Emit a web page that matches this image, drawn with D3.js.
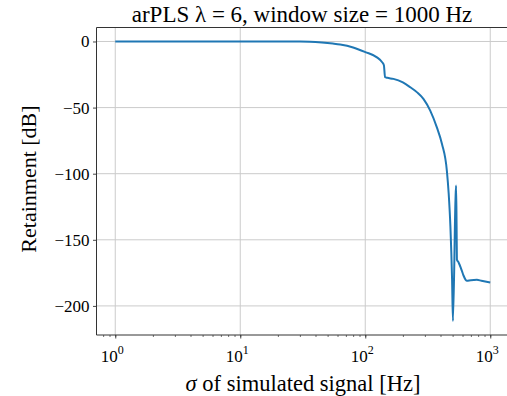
<!DOCTYPE html>
<html>
<head>
<meta charset="utf-8">
<script src="https://cdn.jsdelivr.net/npm/d3@7"></script>
<style>
  html, body { margin: 0; padding: 0; background: #fff; }
  svg { display: block; }
  text { font-family: "Liberation Serif", "Times New Roman", serif; fill: #000; }
</style>
</head>
<body>
<svg id="chart" width="507" height="396"></svg>
<script>
// Signal width σ in Hz and the retained power in dB
const sigmaHz = [1, 2, 5, 10, 20, 30, 36, 45, 55, 63, 80, 100, 124, 136, 141, 144, 150, 168, 200, 229, 260, 292, 331, 374, 411, 450, 465, 480, 495, 503, 527, 533, 538, 541, 557, 593, 611, 651, 700, 782, 850, 1000];
const retainDb = [0, 0, 0, 0, 0, 0, -0.2, -0.8, -1.6, -2.3, -4.5, -8, -12, -15.5, -18, -27, -27.5, -28.3, -31, -34.6, -38.5, -43.4, -52.3, -65, -77.5, -98, -115, -140, -180, -211.4, -120, -109, -140, -165, -167, -173.5, -177, -181, -180.5, -180.3, -181, -182.3];

const xTicks = [1, 10, 100, 1000];
const xTickExp = ["0", "1", "2", "3"];
const yTicks = [0, -50, -100, -150, -200];

const titleParts = ["arPLS ", "λ", " = 6, window size = 1000 Hz"];
const xLabel = ["σ", " of simulated signal [Hz]"];
const yLabel = "Retainment [dB]";

const svg = d3.select("#chart");
const margin = { left: 96.5, right: 509, top: 27.5, bottom: 335 };

const x = d3.scaleLog()
  .domain([Math.pow(10, -0.15), Math.pow(10, 3.15)])
  .range([margin.left, margin.right]);
const y = d3.scaleLinear()
  .domain([-222, 10.57])
  .range([margin.bottom, margin.top]);

// grid
const grid = svg.append("g").attr("stroke", "#cbcbcb").attr("stroke-width", 1);
xTicks.forEach(t => grid.append("line")
  .attr("x1", x(t)).attr("x2", x(t))
  .attr("y1", margin.top).attr("y2", margin.bottom));
yTicks.forEach(t => grid.append("line")
  .attr("x1", margin.left).attr("x2", margin.right)
  .attr("y1", y(t)).attr("y2", y(t)));

// curve
svg.append("defs").append("clipPath").attr("id", "plotClip")
  .append("rect")
  .attr("x", margin.left).attr("y", margin.top)
  .attr("width", margin.right - margin.left)
  .attr("height", margin.bottom - margin.top);

const pts = sigmaHz.map((s, i) => [s, retainDb[i]]);
svg.append("path")
  .datum(pts)
  .attr("clip-path", "url(#plotClip)")
  .attr("fill", "none")
  .attr("stroke", "#1f77b4")
  .attr("stroke-width", 2)
  .attr("stroke-linejoin", "round")
  .attr("d", d3.line().x(d => x(d[0])).y(d => y(d[1])).curve(d3.curveMonotoneX));

// x axis with log minor ticks
const xAxis = d3.axisBottom(x)
  .tickValues(x.ticks())
  .tickSize(2)
  .tickFormat("");
const gx = svg.append("g")
  .attr("transform", `translate(0,${margin.bottom})`)
  .call(xAxis);
gx.select(".domain").remove();
gx.selectAll("line").attr("stroke", "#333").attr("stroke-width", 0.7);

const gxMajor = svg.append("g")
  .attr("transform", `translate(0,${margin.bottom})`)
  .call(d3.axisBottom(x).tickValues(xTicks).tickSize(3.5).tickFormat(""));
gxMajor.select(".domain").remove();
gxMajor.selectAll("line").attr("stroke", "#333").attr("stroke-width", 0.9);

xTicks.forEach((t, i) => {
  const lab = svg.append("text")
    .attr("x", x(t) - 3)
    .attr("y", 362)
    .attr("text-anchor", "middle")
    .attr("font-size", 17);
  lab.append("tspan").text("10");
  lab.append("tspan").attr("dy", -8).attr("font-size", 12).text(xTickExp[i]);
});

// y axis
const gy = svg.append("g")
  .attr("transform", `translate(${margin.left},0)`)
  .call(d3.axisLeft(y).tickValues(yTicks).tickSize(3.5)
    .tickFormat(d => d < 0 ? "\u2212" + Math.abs(d) : String(d)));
gy.select(".domain").remove();
gy.selectAll("line").attr("stroke", "#333").attr("stroke-width", 0.9);
gy.selectAll("text")
  .attr("font-family", "Liberation Serif, serif")
  .attr("font-size", 17)
  .attr("fill", "#000")
  .attr("x", -7);

// spines
const spine = svg.append("g").attr("stroke", "#333").attr("stroke-width", 1).attr("fill", "none");
spine.append("line").attr("x1", margin.left).attr("x2", margin.left).attr("y1", margin.top).attr("y2", margin.bottom);
spine.append("line").attr("x1", margin.left).attr("x2", margin.right).attr("y1", margin.bottom).attr("y2", margin.bottom);
spine.append("line").attr("x1", margin.left).attr("x2", margin.right).attr("y1", margin.top).attr("y2", margin.top);
spine.append("line").attr("x1", margin.right).attr("x2", margin.right).attr("y1", margin.top).attr("y2", margin.bottom);

// title
const title = svg.append("text")
  .attr("x", 302).attr("y", 22)
  .attr("text-anchor", "middle")
  .attr("font-size", 23);
title.append("tspan").text(titleParts[0]);
title.append("tspan").text(titleParts[1]);
title.append("tspan").text(titleParts[2]);

// axis labels
const xl = svg.append("text")
  .attr("x", 303).attr("y", 391)
  .attr("text-anchor", "middle")
  .attr("font-size", 22.5);
xl.append("tspan").attr("font-style", "italic").text(xLabel[0]);
xl.append("tspan").text(xLabel[1]);

svg.append("text")
  .attr("transform", "translate(36,179) rotate(-90)")
  .attr("text-anchor", "middle")
  .attr("font-size", 22)
  .text(yLabel);
</script>
</body>
</html>
